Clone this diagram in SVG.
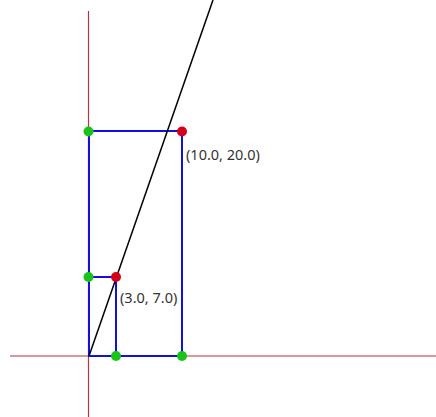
<svg xmlns="http://www.w3.org/2000/svg" width="436" height="417" viewBox="0 0 436 417">
<style>
.axis{stroke:#b8333a;stroke-width:1.2;fill:none}
.rect{stroke:#1010e0;stroke-width:2;fill:none}
.line{stroke:#000;stroke-width:1.5;fill:none}
.g{fill:#19c419}
.r{fill:#d4001a}
.lbl{font-family:"Noto Sans","Open Sans",sans-serif;font-size:14.5px;fill:#333}
</style>
<rect width="436" height="417" fill="#fff"/>
<g id="connectors">
<line class="axis" x1="88.5" y1="11" x2="88.5" y2="417"/>
<line class="axis" x1="10" y1="356" x2="436" y2="356"/>
<rect class="rect" x="89" y="131" width="93" height="225"/>
<rect class="rect" x="89" y="277" width="27" height="79"/>
<line class="line" x1="89" y1="356" x2="213" y2="0"/>
</g>
<g id="p1"><circle class="g" cx="88.5" cy="131.5" r="5"/></g>
<g id="p2"><circle class="r" cx="182" cy="131.5" r="5"/><text class="lbl" x="186" y="160">(10.0, 20.0)</text></g>
<g id="p3"><circle class="g" cx="88.5" cy="277" r="5"/></g>
<g id="p4"><circle class="r" cx="116" cy="277" r="5"/><text class="lbl" x="120" y="303">(3.0, 7.0)</text></g>
<g id="p5"><circle class="g" cx="116" cy="356" r="5"/></g>
<g id="p6"><circle class="g" cx="182" cy="356" r="5"/></g>
</svg>
